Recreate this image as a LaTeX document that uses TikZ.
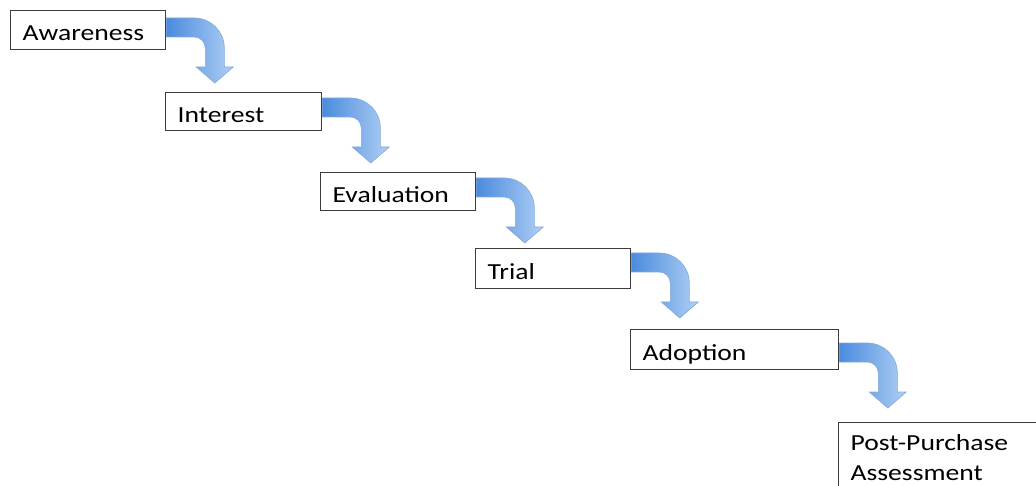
\documentclass[tikz,border=0pt]{standalone}
\usepackage{fontspec}
\setmainfont{Carlito}[FakeStretch=1.2]
\usetikzlibrary{calc}

\definecolor{boxline}{HTML}{3C3C3C}
\definecolor{arrowdark}{HTML}{4A8BDE}
\definecolor{arrowlight}{HTML}{AFCFF4}
\definecolor{arrowedge}{HTML}{7FA9DC}

\begin{document}
\begin{tikzpicture}[x=1pt,y=1pt,
  stagebox/.style={draw=boxline, line width=1.3pt, fill=white, rectangle,
    anchor=north west, inner xsep=12pt, inner ysep=0pt,
    minimum height=39pt, align=left,
    text height=21pt, text depth=0pt,
    font=\fontsize{23}{28}\selectfont},
  bendarrow/.pic={
    \path[draw=arrowedge, line width=0.6pt, left color=arrowdark, right color=arrowlight]
      (0,0) -- (28,0) arc[start angle=90, end angle=0, radius=30]
      -- (58,-49) -- (67,-49) -- (48.5,-65) -- (30,-49) -- (39,-49)
      -- (39,-30) arc[start angle=0, end angle=90, radius=11]
      -- (0,-19) -- cycle;
  }]
\useasboundingbox (0,0) rectangle (1036,-486);
\clip (0,0) rectangle (1036,-486);

% stages of the process
\node[stagebox, text width=131pt, minimum height=39pt] (aw) at (10,-10)  {Awareness};
\node[stagebox, text width=132pt, minimum height=38pt] (in) at (165,-92) {Interest};
\node[stagebox, text width=131pt, minimum height=38pt] (ev) at (320,-172) {Evaluation};
\node[stagebox, text width=131pt, minimum height=40pt] (tr) at (475,-248) {Trial};
\node[stagebox, text width=184pt, minimum height=40pt] (ad) at (630,-329) {Adoption};
% last stage runs past the lower and right edges
\node[stagebox, text height={}, text depth={}, minimum height=0pt] (pp) at (838,-422)
  {\parbox[b][110pt][t]{200pt}{\fontsize{23}{30}\selectfont
     \rule{0pt}{28pt}Post-Purchase\\Assessment}};

% bent arrows leading from each stage to the next
\pic at ($(aw.north east)+(0,-8)$)  {bendarrow};
\pic at ($(in.north east)+(0,-6)$)  {bendarrow};
\pic at ($(ev.north east)+(0,-6)$)  {bendarrow};
\pic at ($(tr.north east)+(0,-5)$)  {bendarrow};
\pic at ($(ad.north east)+(0,-14)$) {bendarrow};
\end{tikzpicture}
\end{document}
